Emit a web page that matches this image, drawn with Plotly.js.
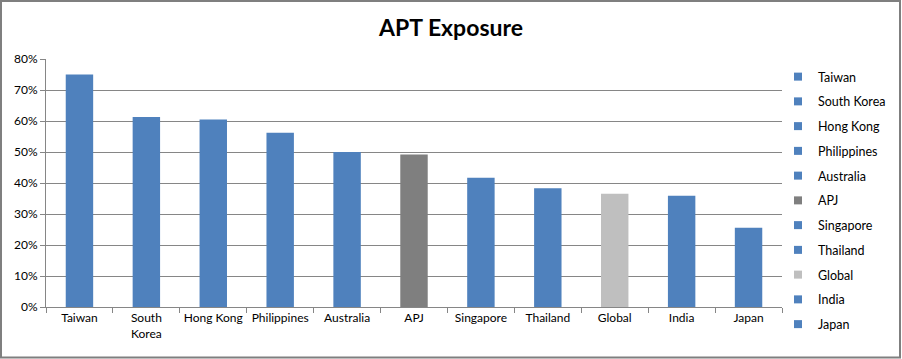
<!DOCTYPE html>
<html><head><meta charset="utf-8">
<script src="https://cdn.plot.ly/plotly-3.0.1.min.js"></script>
<style>body{margin:0;background:#fff}#c{width:902px;height:359px}</style>
</head><body><div id="c"></div>
<script>
const categories = ['Taiwan','South Korea','Hong Kong','Philippines','Australia','APJ','Singapore','Thailand','Global','India','Japan'];
const tickLabels = ['Taiwan','South<br>Korea','Hong Kong','Philippines','Australia','APJ','Singapore','Thailand','Global','India','Japan'];
const values = [0.75, 0.613, 0.605, 0.562, 0.50, 0.492, 0.417, 0.383, 0.365, 0.359, 0.256];
const colors = ['#4F81BD','#4F81BD','#4F81BD','#4F81BD','#4F81BD','#7F7F7F','#4F81BD','#4F81BD','#BFBFBF','#4F81BD','#4F81BD'];

const W = 902, H = 359;
const M = {l: 46, r: 120, t: 59, b: 52, autoexpand: false};
const pw = W - M.l - M.r, ph = H - M.t - M.b;

const traces = categories.map((c, i) => ({
  type: 'bar', name: c, x: [c], y: [values[i]],
  marker: {color: colors[i]}, legendgroup: 'g' + i,
  showlegend: false, hoverinfo: 'x+y'
}));
// legend entries (small square keys, like the reference)
categories.forEach((c, i) => traces.push({
  type: 'scatter', mode: 'markers', name: c, x: [null], y: [null],
  marker: {symbol: 'square', size: 8, color: colors[i]},
  legendgroup: 'g' + i, showlegend: true, hoverinfo: 'skip'
}));

const layout = {
  width: W, height: H, margin: M,
  paper_bgcolor: '#fff', plot_bgcolor: '#fff',
  font: {family: 'Lato, "Open Sans", sans-serif', size: 12, color: '#000'},
  title: {text: '<b>APT Exposure</b>', font: {size: 23, family: 'Lato, "Open Sans", sans-serif'}, x: 0.5, xref: 'container', xanchor: 'center', y: 1 - 28 / H, yanchor: 'middle'},
  barmode: 'relative', bargap: 0.59,
  xaxis: {type: 'category', categoryorder: 'array', categoryarray: categories,
    tickmode: 'array', tickvals: categories, ticktext: tickLabels, tickangle: 0,
    showline: true, linecolor: '#868686', linewidth: 1,
    ticks: 'outside', tickson: 'boundaries', ticklen: 5, tickcolor: '#868686',
    showgrid: false, tickfont: {size: 12}, automargin: false},
  yaxis: {range: [0, 0.8], dtick: 0.1, tickformat: '.0%',
    showline: true, linecolor: '#868686', linewidth: 1,
    ticks: 'outside', ticklen: 5, tickcolor: '#868686',
    showgrid: true, gridcolor: '#868686', gridwidth: 1, zeroline: false,
    tickfont: {size: 12}, automargin: false},
  showlegend: true,
  legend: {xref: 'container', yref: 'container', x: 778 / W, xanchor: 'left',
    y: 1 - 62 / H, yanchor: 'top', maxheight: 340,
    traceorder: 'grouped', tracegroupgap: 5.5, font: {size: 12.5},
    itemwidth: 30, bgcolor: 'rgba(0,0,0,0)'},
  shapes: [{type: 'rect', xref: 'paper', yref: 'paper',
    x0: -(M.l - 1) / pw, x1: 1 + (M.r - 2) / pw,
    y0: -(M.b - 1.5) / ph, y1: 1 + (M.t - 1) / ph,
    line: {color: '#7f7f7f', width: 2}, layer: 'above'}]
};
Plotly.newPlot('c', traces, layout, {displayModeBar: false, staticPlot: true});
</script></body></html>
